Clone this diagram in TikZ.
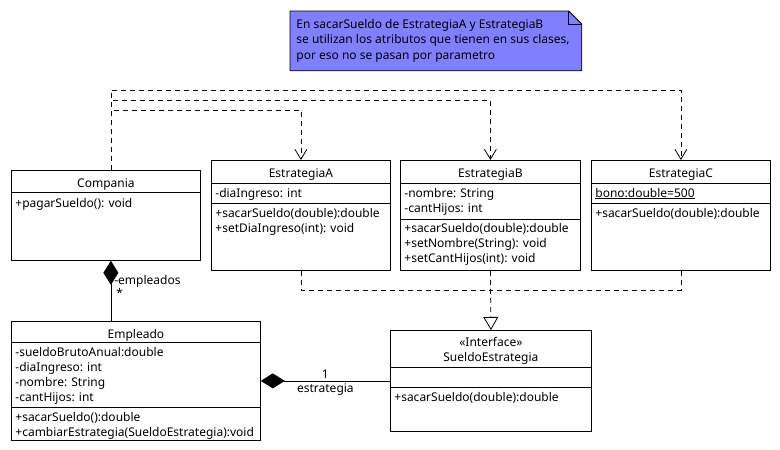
\documentclass[tikz,border=0pt]{standalone}
\usepackage{fontspec}
\setmainfont{Noto Sans}
\usepackage{tikz}
\usetikzlibrary{arrows.meta,positioning}
\definecolor{notefill}{HTML}{8080FF}

\begin{document}
\begin{tikzpicture}[x=1pt, y=-1pt, line width=0.8pt,
        classbox/.style = {draw, inner sep=0pt, anchor=north west},
        title/.style = {font=\fontsize{12}{15}\selectfont, inner sep=0pt, anchor=base},
        members/.style = {font=\fontsize{12}{15}\selectfont, inner sep=0pt, align=left,
                anchor=base west},
        dashline/.style = {dash pattern=on 5pt off 4pt},
        dep/.style = {dashline, -{Straight Barb[length=10pt, width=12pt]}},
        real/.style = {dashline, -{Triangle[open, length=13pt, width=15pt, fill=white]}},
        comp/.style = {{Diamond[length=24pt, width=15pt]}-},
        lbl/.style = {font=\fontsize{12}{15}\selectfont, inner sep=2pt}
    ]
    \useasboundingbox (0,0) rectangle (780,450);

    % Note (base anchor sits on the last line)
    \node[inner sep=0pt, minimum width=291pt, minimum height=59pt, anchor=north west] (note) at (290,11) {};
    \filldraw[fill=notefill] (note.north west) -- ([xshift=-13pt]note.north east)
        -- ([yshift=-13pt]note.north east) -- (note.south east) -- (note.south west) -- cycle;
    \draw ([xshift=-13pt]note.north east) |- ([yshift=-13pt]note.north east);
    \node[members, font=\fontsize{12}{15.5}\selectfont] (noteText) at (296,59)
        {En sacarSueldo de EstrategiaA y EstrategiaB\\se utilizan los atributos que tienen en sus clases,\\por eso no se pasan por parametro};

    % Classes
    \node[classbox, minimum width=189pt, minimum height=90pt] (compania) at (11,170) {};
    \node[title] (companiaName) at ([yshift=-17pt]compania.north) {Compania};
    \draw (compania.west |- 0,192) -- (compania.east |- 0,192);
    \node[members] (companiaOps) at (15,207) {+pagarSueldo(): void};

    \node[classbox, minimum width=179pt, minimum height=110pt] (estA) at (211,160) {};
    \node[title] (estAName) at ([yshift=-17pt]estA.north) {EstrategiaA};
    \draw (estA.west |- 0,183) -- (estA.east |- 0,183);
    \node[members] (estAAttr) at (215,197) {-diaIngreso: int};
    \draw (estA.west |- 0,203) -- (estA.east |- 0,203);
    \node[members] (estAOps) at (215,232) {+sacarSueldo(double):double\\+setDiaIngreso(int): void};

    \node[classbox, minimum width=180pt, minimum height=110pt] (estB) at (400,160) {};
    \node[title] (estBName) at ([yshift=-17pt]estB.north) {EstrategiaB};
    \draw (estB.west |- 0,183) -- (estB.east |- 0,183);
    \node[members] (estBAttr) at (404,212) {-nombre: String\\-cantHijos: int};
    \draw (estB.west |- 0,219) -- (estB.east |- 0,219);
    \node[members] (estBOps) at (404,262.5) {+sacarSueldo(double):double\\+setNombre(String): void\\+setCantHijos(int): void};

    \node[classbox, minimum width=179pt, minimum height=110pt] (estC) at (591,160) {};
    \node[title] (estCName) at ([yshift=-17pt]estC.north) {EstrategiaC};
    \draw (estC.west |- 0,183) -- (estC.east |- 0,183);
    \node[members] (estCAttr) at (595,197) {\underline{bono:double=500}};
    \draw (estC.west |- 0,203) -- (estC.east |- 0,203);
    \node[members] (estCOps) at (595,217) {+sacarSueldo(double):double};

    \node[classbox, minimum width=249pt, minimum height=119pt] (empleado) at (11,321) {};
    \node[title] (empleadoName) at ([yshift=-17pt]empleado.north) {Empleado};
    \draw (empleado.west |- 0,342) -- (empleado.east |- 0,342);
    \node[members] (empleadoAttr) at (15,401.5)
        {-sueldoBrutoAnual:double\\-diaIngreso: int\\-nombre: String\\-cantHijos: int};
    \draw (empleado.west |- 0,407) -- (empleado.east |- 0,407);
    \node[members] (empleadoOps) at (15,436)
        {+sacarSueldo():double\\+cambiarEstrategia(SueldoEstrategia):void};

    \node[classbox, minimum width=201pt, minimum height=101pt] (sueldo) at (390,330) {};
    \node[title] (sueldoStereo) at ([yshift=-16pt]sueldo.north) {«Interface»};
    \node[title] (sueldoName) at ([yshift=-31pt]sueldo.north) {SueldoEstrategia};
    \draw (sueldo.west |- 0,367) -- (sueldo.east |- 0,367);
    \draw (sueldo.west |- 0,387) -- (sueldo.east |- 0,387);
    \node[members] (sueldoOps) at (394,401) {+sacarSueldo(double):double};

    % Arrows
    \draw[dep] ([xshift=5pt]compania.north) |- ([yshift=70pt]estC.north) -- (estC.north);
    \draw[dep] ([xshift=5pt]compania.north) |- ([yshift=60pt]estB.north) -- (estB.north);
    \draw[dep] ([xshift=5pt]compania.north) |- ([yshift=50pt]estA.north) -- (estA.north);

    \coordinate (junc) at ([yshift=40pt]sueldo.north);
    \draw[dashline] (estA.south) |- (junc);
    \draw[dashline] (estC.south) |- (junc);
    \draw[real] (estB.south) -- (sueldo.north);

    \draw[comp] ([xshift=5pt]compania.south) -- ([xshift=5pt]compania.south |- empleado.north)
        node[lbl, pos=0.39, anchor=base west, inner sep=0pt, xshift=3pt] {-empleados}
        node[lbl, pos=0.61, anchor=base west, inner sep=0pt, xshift=5pt] {*};
    \draw[comp] (empleado.east) -- (sueldo.west)
        node[lbl, midway, above] {1}
        node[lbl, midway, below] {estrategia};
\end{tikzpicture}
\end{document}
